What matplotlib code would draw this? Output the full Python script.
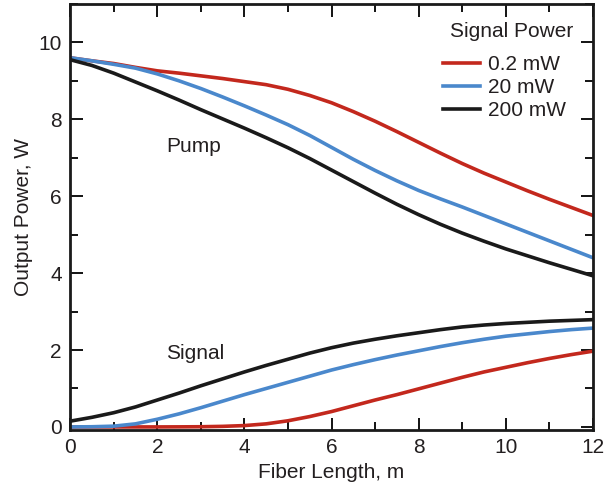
import numpy as np
import matplotlib.pyplot as plt
from matplotlib.ticker import MultipleLocator

plt.rcParams['font.family'] = ['Liberation Sans', 'DejaVu Sans']

# fiber length (m)
length = [0, 0.5, 1, 1.5, 2, 2.5, 3, 3.5, 4, 4.5, 5, 5.5, 6,
          6.5, 7, 7.5, 8, 8.5, 9, 9.5, 10, 10.5, 11, 11.5, 12]

# pump output power (W) for each signal power
pump_02 = [9.6, 9.52, 9.45, 9.35, 9.26, 9.2, 9.13, 9.06, 8.98, 8.9, 8.78, 8.62, 8.43,
           8.2, 7.95, 7.68, 7.4, 7.12, 6.85, 6.6, 6.37, 6.14, 5.92, 5.71, 5.5]
pump_20 = [9.6, 9.52, 9.43, 9.33, 9.18, 9.0, 8.8, 8.58, 8.35, 8.11, 7.86, 7.58, 7.27,
           6.96, 6.67, 6.4, 6.15, 5.93, 5.72, 5.5, 5.28, 5.06, 4.84, 4.62, 4.4]
pump_200 = [9.55, 9.4, 9.2, 8.97, 8.74, 8.5, 8.25, 8.01, 7.77, 7.52, 7.26, 6.98, 6.68,
            6.38, 6.08, 5.79, 5.52, 5.27, 5.04, 4.83, 4.63, 4.45, 4.27, 4.1, 3.93]

# signal output power (W)
sig_02 = [0.0, 0.0, 0.0, 0.0, 0.0, 0.002, 0.005, 0.015, 0.035, 0.08, 0.16, 0.27, 0.4,
          0.55, 0.7, 0.84, 0.99, 1.14, 1.29, 1.43, 1.55, 1.67, 1.78, 1.88, 1.97]
sig_20 = [0.0, 0.005, 0.02, 0.08, 0.2, 0.34, 0.5, 0.67, 0.84, 1.0, 1.16, 1.32, 1.48,
          1.62, 1.75, 1.87, 1.98, 2.09, 2.19, 2.28, 2.36, 2.42, 2.48, 2.53, 2.57]
sig_200 = [0.15, 0.25, 0.37, 0.52, 0.7, 0.88, 1.07, 1.25, 1.43, 1.6, 1.76, 1.92, 2.06,
           2.18, 2.28, 2.37, 2.45, 2.53, 2.6, 2.65, 2.69, 2.72, 2.75, 2.77, 2.79]

labels = ['0.2 mW', '20 mW', '200 mW']
colors = ['#c3281d', '#4a88cc', '#1a1a1a']
txt = '#231f20'

fig = plt.figure(figsize=(6.05, 4.92), dpi=100)
ax = fig.add_axes([0.116, 0.126, 0.864, 0.866])

for pump, sig, lab, c in zip([pump_02, pump_20, pump_200], [sig_02, sig_20, sig_200], labels, colors):
    ax.plot(length, pump, color=c, lw=2.6, label=lab, solid_joinstyle='round')
    ax.plot(length, sig, color=c, lw=2.6, solid_joinstyle='round')

ax.set_xlim(0, 12)
ax.set_ylim(-0.08, 11)
ax.xaxis.set_major_locator(MultipleLocator(2))
ax.xaxis.set_minor_locator(MultipleLocator(1))
ax.yaxis.set_major_locator(MultipleLocator(2))
ax.yaxis.set_minor_locator(MultipleLocator(1))
ax.tick_params(which='both', direction='in', top=True, right=True, width=1.3,
               labelsize=15, labelcolor=txt)
ax.tick_params(which='major', length=9, pad=6)
ax.tick_params(which='minor', length=6)
for s in ax.spines.values():
    s.set_linewidth(2)
    s.set_color('#1a1a1a')

ax.set_xlabel('Fiber Length, m', fontsize=15, color=txt)
ax.set_ylabel('Output Power, W', fontsize=15, color=txt)

ax.text(2.2, 7.3, 'Pump', fontsize=15, va='center', ha='left', color=txt)
ax.text(2.2, 1.9, 'Signal', fontsize=15, va='center', ha='left', color=txt)

# legend title placed separately to get the wider gap of the original
ax.text(0.845, 0.936, 'Signal Power', transform=ax.transAxes, fontsize=15,
        ha='center', va='center', color=txt)
leg = ax.legend(loc='upper left', bbox_to_anchor=(0.713, 0.880), frameon=False,
                fontsize=15, handlelength=1.8, handletextpad=0.35, labelspacing=0.2,
                borderpad=0, borderaxespad=0)
for t in leg.get_texts():
    t.set_color(txt)

fig.savefig('out.png', dpi=100)
